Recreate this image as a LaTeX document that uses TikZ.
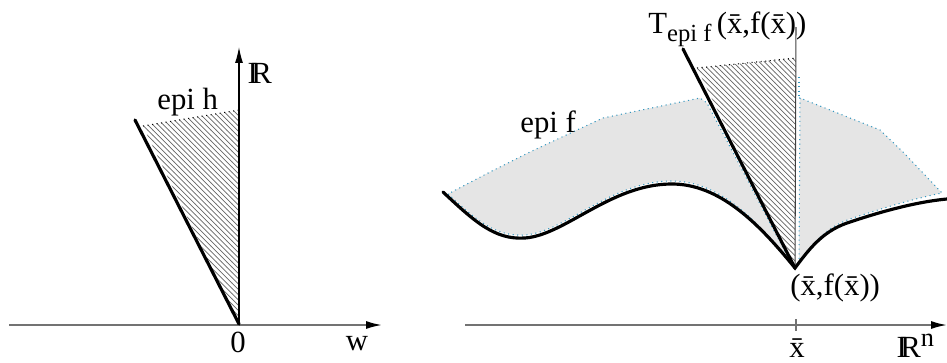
\documentclass[tikz,border=0pt]{standalone}
\usepackage{fontspec}
\setmainfont{Liberation Serif}
\usetikzlibrary{arrows.meta,patterns}

\newcommand{\dsR}{\rlap{\kern-0.12em I}R}

\begin{document}
\begin{tikzpicture}[x=0.02cm,y=-0.02cm,
    axis/.style={draw=black!55, line width=1pt, -{Latex[black,length=9pt,width=4.5pt]}},
    upaxis/.style={draw=black, line width=0.7pt, -{Latex[black,length=9pt,width=4.5pt]}},
    bd/.style={line width=1.8pt, line cap=round},
    rim/.style={draw=cyan!75!black, dotted, line width=0.6pt},
    hatch/.style={pattern=north west lines, pattern color=black!60},
    lbl/.style={font=\fontsize{17.5}{20}\selectfont, inner sep=0pt}
  ]
  \useasboundingbox (0,0) rectangle (947,362);

  % left: the cone epi h
  \coordinate (o)    at (239,324);
  \coordinate (hl)   at (143,126);
  \coordinate (ht)   at (239,110);
  \coordinate (tipl) at (135,120);
  \coordinate (wl)   at (9,325);
  \coordinate (wr)   at (382,325);
  \coordinate (rt)   at (239,47);
  \fill[hatch] (o) -- (hl) -- (ht) -- cycle;
  \draw[dotted, line width=0.6pt] (hl) -- (ht);
  \draw[axis] (wl) -- (wr);
  \draw[upaxis] (o) -- (rt);
  \draw[bd] (o) -- (tipl);
  \node[lbl, anchor=base west] (epih) at (157,109) {epi h};
  \node[lbl, anchor=base west] (rl)   at (251,83) {\dsR};
  \node[lbl, anchor=base]      (zero) at (238,352) {0};
  \node[lbl, anchor=base]      (w)    at (357,350) {w};

  % right: epi f and its tangent cone
  \coordinate (p)    at (795,268);
  \coordinate (hr)   at (697,68);
  \coordinate (hv)   at (796,58);
  \coordinate (vt)   at (796,27);
  \coordinate (tipr) at (683,49);
  \coordinate (xl)   at (465,325);
  \coordinate (xr)   at (947,325);
  \coordinate (tkt)  at (796,319);
  \coordinate (tkb)  at (796,331);

  \path[fill=black!10, rim] (448,194) .. controls (475,219) and (495,237) .. (525,235)
    .. controls (565,232) and (610,182) .. (670,181)
    .. controls (720,180) and (758,222) .. (791,263)
    -- (707,103) -- (700,98) -- (603,118) -- (577,130) -- (530,152) -- (490,172) -- cycle;
  \path[fill=black!10, rim] (799,262) .. controls (814,242) and (827,227) .. (850,219)
    .. controls (880,209) and (912,199) .. (942,193)
    -- (903,152) -- (880,130) -- (800,98) -- cycle;
  \draw[rim] (799,77) -- (799,98);

  \fill[white] (p) -- (hr) -- (hv) -- cycle;
  \fill[hatch] (p) -- (hr) -- (hv) -- cycle;
  \draw[dotted, line width=0.6pt] (hr) -- (hv);
  \draw[black!75, line width=0.6pt] (p) -- (vt);

  \draw[bd] (443,192) .. controls (475,222) and (495,240) .. (525,238)
    .. controls (565,235) and (610,185) .. (670,184)
    .. controls (720,183) and (760,225) .. (p)
    .. controls (812,245) and (825,230) .. (850,222)
    .. controls (880,212) and (915,202) .. (947,199);
  \draw[bd] (p) -- (tipr);

  \draw[axis] (xl) -- (xr);
  \draw[black!55, line width=0.8pt] (tkt) -- (tkb);

  \node[lbl, anchor=base west] (epif) at (520,132) {epi f};
  \node[lbl, anchor=base west] (tcone) at (648,33)
    {T\raisebox{-5pt}{\fontsize{14}{14}\selectfont epi f}\hspace{3pt}(\=x,f(\=x))};
  \node[lbl, anchor=base west] (pt)   at (790,295) {(\=x,f(\=x))};
  \node[lbl, anchor=base]      (xbar) at (797,357) {\=x};
  \node[lbl, anchor=base west] (rn)   at (900,357)
    {\dsR\raisebox{6pt}{\fontsize{15}{15}\selectfont n}};
\end{tikzpicture}
\end{document}
